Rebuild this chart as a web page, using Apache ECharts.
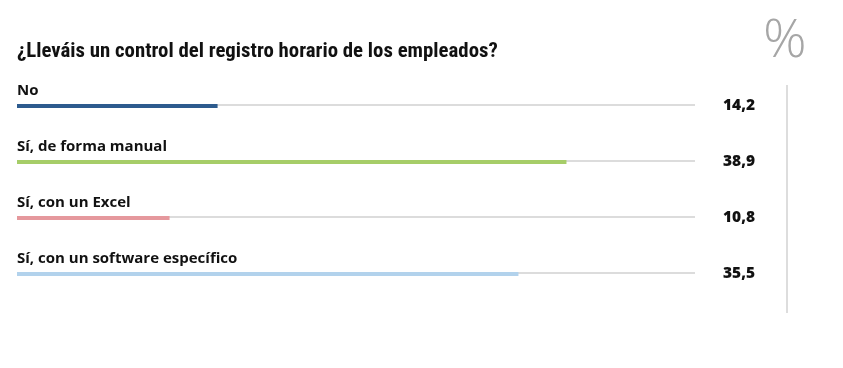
<!DOCTYPE html>
<html><head><meta charset="utf-8">
<script src="https://cdn.jsdelivr.net/npm/echarts@6/dist/echarts.min.js"></script>
<style>html,body{margin:0;padding:0;background:#fff}#c{width:843px;height:368px}</style>
</head><body><div id="c"></div>
<script>
const categories = ['No', 'Sí, de forma manual', 'Sí, con un Excel', 'Sí, con un software específico'];
const values = [14.2, 38.9, 10.8, 35.5];
const colors = ['#2d5b8e', '#a6cd68', '#e5989d', '#b2d2ec'];
const title = '¿Lleváis un control del registro horario de los empleados?';
const axisMax = 48;

const chart = echarts.init(document.getElementById('c'), null, {renderer: 'canvas'});
const fmt = v => v.toFixed(1).replace('.', ',');
chart.setOption({
  animation: false,
  grid: {left: 17, right: 148, top: 78, bottom: 66},
  xAxis: {type: 'value', min: 0, max: axisMax, show: false},
  yAxis: [
    {type: 'category', data: categories, inverse: true, axisLine: {show: false}, axisTick: {show: false}, axisLabel: {show: false}},
    {type: 'category', data: values.map(fmt), inverse: true, position: 'right', axisLine: {show: false}, axisTick: {show: false},
     axisLabel: {align: 'right', margin: 60, fontFamily: 'Open Sans', fontWeight: 800, fontSize: 15.5, color: '#111'}}
  ],
  series: [
    {type: 'bar', name: 'track', data: categories.map(() => axisMax), barWidth: 2, itemStyle: {color: '#dcdcdc'},
     silent: true,
     label: {show: true, position: [0, -6], align: 'left', verticalAlign: 'bottom',
       formatter: p => categories[p.dataIndex], fontFamily: 'Open Sans', fontWeight: 700, fontSize: 15, color: '#111'}},
    {type: 'bar', name: 'valor', data: values.map((v, i) => ({value: v, itemStyle: {color: colors[i]}})), barWidth: 4, barGap: '-100%', z: 3}
  ],
  graphic: [
    {type: 'text', left: 17, top: 41, style: {text: title, fontFamily: 'Liberation Sans Narrow, Roboto Condensed, Roboto', fontWeight: 700, fontSize: 20.8, fill: '#111'}},
    {type: 'text', left: 763, top: 15, style: {text: '%', fontFamily: 'Open Sans', fontWeight: 300, fontSize: 54, fill: '#a6a6a6'}},
    {type: 'line', shape: {x1: 787, y1: 85, x2: 787, y2: 313}, style: {stroke: '#dddddd', lineWidth: 2}}
  ]
});
</script></body></html>
